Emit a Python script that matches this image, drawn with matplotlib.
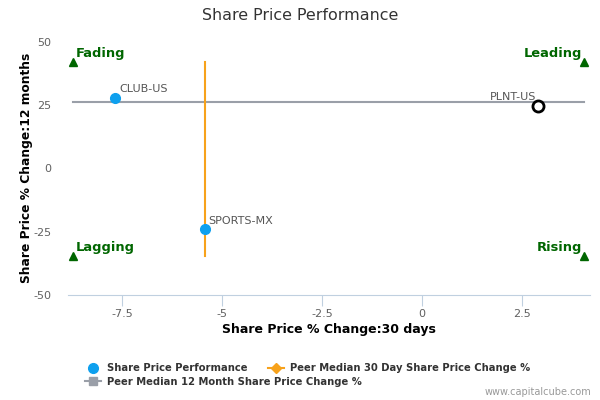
import matplotlib.pyplot as plt
from matplotlib.lines import Line2D

plt.rcParams['axes.unicode_minus'] = False

# data
tickers = ['CLUB-US', 'SPORTS-MX', 'PLNT-US']
chg_30d = [-7.68, -5.44, 2.89]
chg_12m = [27.9, -24.1, 24.6]
highlight = 'PLNT-US'

peer_median_30d = -5.42
peer_median_12m = 26.3
x_lo, x_hi = -8.73, 4.05
y_lo, y_hi = -34.8, 41.8

quadrants = ['Fading', 'Leading', 'Lagging', 'Rising']

blue = '#0ea0ee'
orange = '#f7a21b'
grey = '#9a9fa8'
green = '#006600'
txt = '#333333'

fig = plt.figure(figsize=(6, 4), dpi=100)
ax = fig.add_axes([0.113, 0.2625, 0.87, 0.6335])

# medians
ax.plot([x_lo, x_hi], [peer_median_12m, peer_median_12m], color=grey, lw=1.5, zorder=2)
ax.plot([peer_median_30d, peer_median_30d], [y_lo, y_hi], color=orange, lw=1.5, zorder=2)

# quadrant markers
ax.plot([x_lo, x_hi, x_lo, x_hi], [y_hi, y_hi, y_lo, y_lo], '^', color=green, ms=5.5, zorder=3)
qkw = dict(color=green, fontsize=9.4, fontweight='bold', va='bottom')
ax.text(x_lo + 0.08, y_hi + 0.8, quadrants[0], ha='left', **qkw)
ax.text(x_hi - 0.05, y_hi + 0.8, quadrants[1], ha='right', **qkw)
ax.text(x_lo + 0.08, y_lo + 0.8, quadrants[2], ha='left', **qkw)
ax.text(x_hi - 0.05, y_lo + 0.8, quadrants[3], ha='right', **qkw)

# companies
for name, x, y in zip(tickers, chg_30d, chg_12m):
    if name == highlight:
        ax.plot(x, y, 'o', ms=8, mfc='white', mec='black', mew=2, zorder=4)
        ax.text(x - 0.05, y + 1.5, name, fontsize=8, color='#555555', ha='right', va='bottom')
    else:
        ax.plot(x, y, 'o', ms=7, color=blue, zorder=4)
        ax.text(x + 0.1, y + 1.5, name, fontsize=8, color='#555555', ha='left', va='bottom')

ax.set_xlim(-8.86, 4.19)
ax.set_ylim(-50, 50)
ax.set_xticks([-7.5, -5, -2.5, 0, 2.5])
ax.set_xticklabels(['-7.5', '-5', '-2.5', '0', '2.5'])
ax.set_yticks([-50, -25, 0, 25, 50])
for s in ['top', 'right', 'left']:
    ax.spines[s].set_visible(False)
ax.spines['bottom'].set_color('#c0d0e0')
ax.tick_params(axis='x', colors='#c0d0e0', labelcolor='#606060', labelsize=8, length=8, pad=2)
ax.tick_params(axis='y', length=0, labelcolor='#606060', labelsize=8, pad=12)

ax.set_xlabel('Share Price % Change:30 days', fontsize=9, fontweight='bold', color='black', labelpad=3)
ax.set_ylabel('Share Price % Change:12 months', fontsize=8.8, fontweight='bold', color='black', labelpad=0)
fig.text(0.5, 0.96, 'Share Price Performance', ha='center', va='center', fontsize=11.4, color=txt)

handles = [
    Line2D([], [], marker='o', ls='none', color=blue, ms=7),
    Line2D([], [], marker='D', color=orange, lw=1.5, ms=5),
    Line2D([], [], marker='s', color=grey, lw=1.5, ms=6),
]
labels = ['Share Price Performance', 'Peer Median 30 Day Share Price Change %',
          'Peer Median 12 Month Share Price Change %']
lkw = dict(frameon=False, prop={'weight': 'bold', 'size': 7.2},
           handlelength=1.6, handletextpad=0.57, labelcolor=txt)
fig.legend(handles[:2], labels[:2], loc='center left', bbox_to_anchor=(0.127, 0.08), ncol=2,
           columnspacing=2.1, **lkw)
fig.legend(handles[2:], labels[2:], loc='center left', bbox_to_anchor=(0.127, 0.046), ncol=1, **lkw)
fig.text(0.985, 0.02, 'www.capitalcube.com', ha='right', va='center', fontsize=7, color='#999999')

fig.savefig('out.png', dpi=100)
